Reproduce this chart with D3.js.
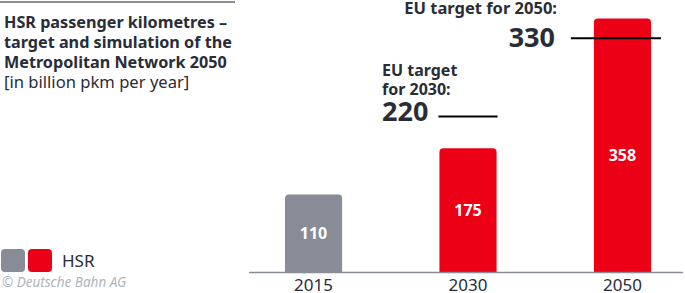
<!DOCTYPE html>
<html>
<head>
<meta charset="utf-8">
<script src="https://cdn.jsdelivr.net/npm/d3@7"></script>
<style>
  body { margin: 0; background: #fff; }
  svg { display: block; font-family: "Noto Sans", sans-serif; }
</style>
</head>
<body>
<div id="chart"></div>
<script>
// data
var years = ["2015", "2030", "2050"];
var values = [110, 175, 358];
var barColors = ["#878c96", "#ec0016", "#ec0016"];
var targetYears = ["2030", "2050"];
var targetValues = [220, 330];
var titleLines = ["HSR passenger kilometres \u2013", "target and simulation of the", "Metropolitan Network 2050"];
var subtitle = "[in billion pkm per year]";

var width = 685, height = 293;
var dark = "#282d37";

var svg = d3.select("#chart").append("svg")
    .attr("width", width)
    .attr("height", height);

var x = d3.scaleBand()
    .domain(years)
    .range([251, 685])
    .paddingInner(0.63)
    .paddingOuter(0.22);

var y = d3.scaleLinear()
    .domain([0, 384])
    .range([272.5, 0]);

// top rule
svg.append("line")
    .attr("x1", 0).attr("x2", 235)
    .attr("y1", 2).attr("y2", 2)
    .attr("stroke", "#646973")
    .attr("stroke-width", 1.5);

// title
var title = svg.append("text")
    .attr("x", 4)
    .attr("fill", dark);
titleLines.forEach(function(t, i) {
    title.append("tspan")
        .attr("x", 4)
        .attr("y", 28 + i * 20)
        .attr("font-size", 16.2)
        .attr("font-weight", "bold")
        .text(t);
});
title.append("tspan")
    .attr("x", 4)
    .attr("y", 88)
    .attr("font-size", 16.6)
    .text(subtitle);

// bars with rounded top corners
function barPath(x0, y0, w, h, r) {
    return "M" + x0 + "," + (y0 + h) +
        "V" + (y0 + r) +
        "Q" + x0 + "," + y0 + " " + (x0 + r) + "," + y0 +
        "H" + (x0 + w - r) +
        "Q" + (x0 + w) + "," + y0 + " " + (x0 + w) + "," + (y0 + r) +
        "V" + (y0 + h) + "Z";
}

var data = years.map(function(d, i) {
    return { year: d, value: values[i], color: barColors[i] };
});

svg.selectAll(".bar")
    .data(data)
    .enter().append("path")
    .attr("class", "bar")
    .attr("fill", function(d) { return d.color; })
    .attr("d", function(d) {
        return barPath(x(d.year), y(d.value), x.bandwidth(), y(0) - y(d.value), 4);
    });

// values inside bars (last one sits at the target level)
svg.selectAll(".val")
    .data(data)
    .enter().append("text")
    .attr("class", "val")
    .attr("x", function(d) { return x(d.year) + x.bandwidth() / 2; })
    .attr("y", function(d) { return (y(0) + y(Math.min(d.value, targetValues[1]))) / 2 + 6; })
    .attr("text-anchor", "middle")
    .attr("fill", "#fff")
    .attr("font-size", 16)
    .attr("font-weight", "bold")
    .text(function(d) { return d.value; });

// x axis
var xAxis = d3.axisBottom(x).tickSize(0).tickPadding(8);
var gx = svg.append("g")
    .attr("transform", "translate(0," + y(0) + ")")
    .call(xAxis);
gx.select(".domain")
    .attr("stroke", "#878c96")
    .attr("stroke-width", 1.5)
    .attr("d", "M249,0H683");
gx.selectAll("text")
    .attr("font-family", "Noto Sans, sans-serif")
    .attr("font-size", 17)
    .attr("fill", dark)
    .attr("dy", "0.6em");

// target for 2030
var t30 = y(targetValues[0]);
svg.append("line")
    .attr("x1", x(targetYears[0]) - 1)
    .attr("x2", x(targetYears[0]) + x.bandwidth() + 1)
    .attr("y1", t30).attr("y2", t30)
    .attr("stroke", "#000").attr("stroke-width", 2);
svg.append("text")
    .attr("x", 382).attr("y", t30 - 40)
    .attr("fill", dark).attr("font-size", 16).attr("font-weight", "bold")
    .text("EU target");
svg.append("text")
    .attr("x", 382).attr("y", t30 - 21)
    .attr("fill", dark).attr("font-size", 16).attr("font-weight", "bold")
    .text("for 2030:");
svg.append("text")
    .attr("x", 382).attr("y", t30 + 5)
    .attr("fill", dark).attr("font-size", 27).attr("font-weight", "bold")
    .text(targetValues[0]);

// target for 2050
var t50 = y(targetValues[1]);
svg.append("line")
    .attr("x1", x(targetYears[1]) - 23)
    .attr("x2", x(targetYears[1]) + x.bandwidth() + 10)
    .attr("y1", t50).attr("y2", t50)
    .attr("stroke", "#000").attr("stroke-width", 2);
svg.append("text")
    .attr("x", 557).attr("y", t50 - 24)
    .attr("text-anchor", "end")
    .attr("fill", dark).attr("font-size", 16.5).attr("font-weight", "bold")
    .text("EU target for 2050:");
svg.append("text")
    .attr("x", 555).attr("y", t50 + 9)
    .attr("text-anchor", "end")
    .attr("fill", dark).attr("font-size", 27).attr("font-weight", "bold")
    .text(targetValues[1]);

// legend
svg.append("rect")
    .attr("x", 1).attr("y", 249).attr("width", 24).attr("height", 23)
    .attr("rx", 4).attr("fill", barColors[0]);
svg.append("rect")
    .attr("x", 28).attr("y", 249).attr("width", 24).attr("height", 23)
    .attr("rx", 4).attr("fill", barColors[1]);
svg.append("text")
    .attr("x", 62).attr("y", 267)
    .attr("fill", dark).attr("font-size", 17)
    .text("HSR");

svg.append("text")
    .attr("x", 2).attr("y", 287)
    .attr("fill", "#afb4bb").attr("font-size", 13.5)
    .attr("font-style", "italic")
    .text("\u00a9 Deutsche Bahn AG");
</script>
</body>
</html>
